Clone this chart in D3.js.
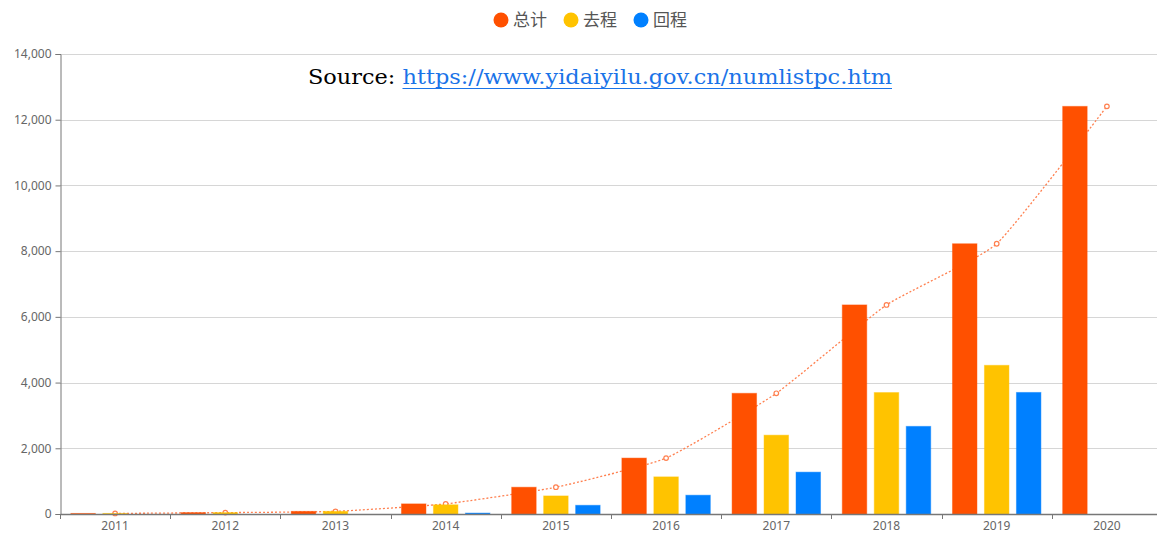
<!DOCTYPE html>
<html>
<head>
<meta charset="utf-8">
<script src="https://cdn.jsdelivr.net/npm/d3@7"></script>
<style>
  html, body { margin: 0; padding: 0; background: #fff; }
  svg { display: block; }
</style>
</head>
<body>
<svg id="chart" width="1157" height="534"></svg>
<script>
const years = ["2011","2012","2013","2014","2015","2016","2017","2018","2019","2020"];
const total = [17, 42, 80, 308, 815, 1702, 3673, 6363, 8225, 12406];
const outbound = [17, 42, 80, 280, 550, 1130, 2399, 3696, 4525, null];
const inbound = [0, 0, 0, 28, 265, 572, 1274, 2667, 3700, null];
const yTicks = [0, 2000, 4000, 6000, 8000, 10000, 12000, 14000];
const seriesNames = ["总计", "去程", "回程"];
const colors = ["#ff5000", "#ffc300", "#0080ff"];
const lineColor = "#ff8050";

(function () {
const svg = d3.select("#chart");
const pLeft = 60, pRight = 1162, pTop = 54, pBottom = 514;

const x = d3.scaleBand().domain(years).range([pLeft, pRight]);
const y = d3.scaleLinear().domain([0, 14000]).range([pBottom, pTop]);
const slot = d3.scaleBand().domain([0,1,2]).range([0, x.bandwidth()]).paddingInner(0.234).paddingOuter(0.34);

// grid
svg.append("g").selectAll("line").data(yTicks.filter(d => d > 0)).join("line")
  .attr("x1", pLeft).attr("x2", 1157)
  .attr("y1", d => Math.round(y(d)) + 0.5).attr("y2", d => Math.round(y(d)) + 0.5)
  .attr("stroke", "#d6d6d6").attr("stroke-width", 1);

// y axis
const yAxis = svg.append("g").attr("transform", `translate(${pLeft + 0.5},0)`)
  .call(d3.axisLeft(y).tickValues(yTicks).tickSize(5).tickPadding(4).tickFormat(d3.format(",")));
yAxis.select(".domain").attr("stroke", "#777");
yAxis.selectAll(".tick line").attr("stroke", "#777");
yAxis.selectAll("text").attr("fill", "#666").style("font-size", "12px").style("font-family", "'Noto Sans', sans-serif");

// line (drawn below bars)
const lineData = years.map((yr, i) => ({yr, v: total[i]}));
const lineGen = d3.line().x(d => x(d.yr) + x.bandwidth()/2).y(d => y(d.v)).curve(d3.curveCardinal.tension(0.55));
svg.append("path").datum(lineData)
  .attr("d", lineGen).attr("fill", "none")
  .attr("stroke", lineColor).attr("stroke-width", 1.3).attr("stroke-dasharray", "2,2");
svg.append("g").selectAll("circle").data(lineData).join("circle")
  .attr("cx", d => x(d.yr) + x.bandwidth()/2).attr("cy", d => y(d.v)).attr("r", 2.3)
  .attr("fill", "#fff").attr("stroke", lineColor).attr("stroke-width", 1.2);

// bars
const series = [total, outbound, inbound];
series.forEach((vals, si) => {
  svg.append("g").selectAll("rect")
    .data(years.map((yr, i) => ({yr, v: vals[i]})).filter(d => d.v != null && d.v > 0))
    .join("rect")
    .attr("x", d => x(d.yr) + slot(si))
    .attr("width", slot.bandwidth())
    .attr("y", d => y(d.v))
    .attr("height", d => pBottom - y(d.v))
    .attr("fill", colors[si])
    .attr("stroke", colors[si]).attr("stroke-opacity", 0.45).attr("stroke-width", 1);
});

// x axis
const xAxis = svg.append("g").attr("transform", `translate(0,${pBottom})`)
  .call(d3.axisBottom(x).tickSize(0).tickPadding(7));
xAxis.select(".domain").attr("stroke", "#777").attr("stroke-width", 1.3);
xAxis.selectAll("text").attr("fill", "#666").style("font-size", "12px").style("font-family", "'Noto Sans', sans-serif");
svg.append("g").selectAll("line").data(years).join("line")
  .attr("x1", d => Math.round(x(d)) + 0.5).attr("x2", d => Math.round(x(d)) + 0.5)
  .attr("y1", pBottom).attr("y2", pBottom + 5).attr("stroke", "#777");

// legend
const legendX = [501, 571, 641];
const lg = svg.append("g");
seriesNames.forEach((n, i) => {
  lg.append("circle").attr("cx", legendX[i]).attr("cy", 20).attr("r", 7.5).attr("fill", colors[i]);
  lg.append("text").attr("x", legendX[i] + 12).attr("y", 26).text(n)
    .attr("fill", "#555").style("font-size", "17px").style("font-family", "'Noto Sans CJK SC', sans-serif");
});

// source
const src = svg.append("text").attr("x", 308).attr("y", 84)
  .style("font-family", "'DejaVu Serif', 'Liberation Serif', serif").style("font-size", "20px");
src.append("tspan").attr("fill", "#000").text("Source: ");
src.append("tspan").attr("fill", "#1a73e8").text("https://www.yidaiyilu.gov.cn/numlistpc.htm");
const node = src.node();
src.attr("textLength", 584).attr("lengthAdjust", "spacingAndGlyphs");
const n0 = "Source: ".length;
const nAll = node.getNumberOfChars();
const sx = node.getStartPositionOfChar(n0).x;
const ex = node.getEndPositionOfChar(nAll - 1).x;
svg.append("line").attr("x1", sx).attr("x2", ex).attr("y1", 88.5).attr("y2", 88.5)
  .attr("stroke", "#1a73e8").attr("stroke-width", 1);
})();
</script>
</body>
</html>
